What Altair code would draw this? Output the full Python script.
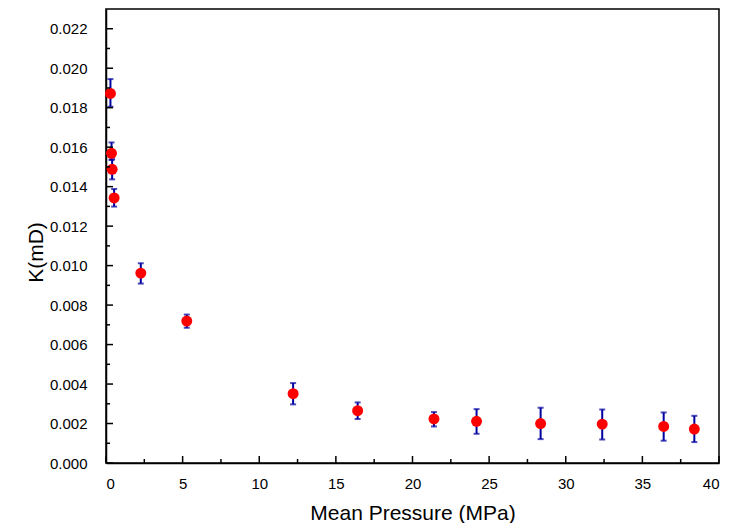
import altair as alt
import pandas as pd

# Data
pressure = [0.29, 0.36, 0.40, 0.53, 2.27, 5.27, 12.21, 16.42, 21.40, 24.18, 28.36, 32.38, 36.39, 38.39]
k_val = [0.01872, 0.01569, 0.01488, 0.01343, 0.00962, 0.00719, 0.00351, 0.00265, 0.00223, 0.00211, 0.00200, 0.00197, 0.00185, 0.00172]
k_hi = [0.01945, 0.01624, 0.01539, 0.01388, 0.01012, 0.00752, 0.00405, 0.00307, 0.00258, 0.00273, 0.00280, 0.00271, 0.00256, 0.00239]
k_lo = [0.01805, 0.01535, 0.01437, 0.01299, 0.00909, 0.00685, 0.00297, 0.00223, 0.00185, 0.00148, 0.00121, 0.00119, 0.00113, 0.00106]

y_major = [0.000, 0.002, 0.004, 0.006, 0.008, 0.010, 0.012, 0.014, 0.016, 0.018, 0.020, 0.022]
y_minor = [0.001, 0.003, 0.005, 0.007, 0.009, 0.011, 0.013, 0.015, 0.017, 0.019, 0.021]
x_major = [0, 5, 10, 15, 20, 25, 30, 35, 40]
x_minor = [2.5, 7.5, 12.5, 17.5, 22.5, 27.5, 32.5, 37.5]

W, H = 613, 454
FONT = "Liberation Sans"

df = pd.DataFrame({"p": pressure, "k": k_val, "hi": k_hi, "lo": k_lo})

xscale = alt.Scale(domain=[0, 40], nice=False, zero=False)
yscale = alt.Scale(domain=[0, 0.023], nice=False, zero=False)

xaxis = alt.Axis(values=x_major, format="d", ticks=False, grid=False, labelPadding=25,
                 labelBaseline="alphabetic", labelFontSize=15, labelFont=FONT, labelColor="black",
                 title="Mean Pressure (MPa)", titleFontSize=21, titleFont=FONT, titleFontWeight="normal",
                 titleColor="black", titleBaseline="alphabetic", titleY=56,
                 domainColor="black", domainWidth=1.5)
yaxis = alt.Axis(values=y_major, format=".3f", ticks=False, grid=False, labelPadding=19,
                 labelFontSize=15, labelFont=FONT, labelColor="black",
                 title="K(mD)", titleFontSize=21, titleFont=FONT, titleFontWeight="normal",
                 titleColor="black", titleAngle=-90, titleBaseline="alphabetic",
                 titleX=-64, titleY=243, titleAlign="center",
                 domainColor="black", domainWidth=1.5)

base = alt.Chart(df)

bars = base.mark_rule(color="#0000A0", strokeWidth=2).encode(
    x=alt.X("p:Q", scale=xscale, axis=xaxis),
    y=alt.Y("lo:Q", scale=yscale, axis=yaxis),
    y2="hi:Q",
)
cap_hi = base.mark_tick(color="#0000A0", orient="horizontal", size=6, thickness=2).encode(
    x=alt.X("p:Q", scale=xscale), y=alt.Y("hi:Q", scale=yscale))
cap_lo = base.mark_tick(color="#0000A0", orient="horizontal", size=6, thickness=2).encode(
    x=alt.X("p:Q", scale=xscale), y=alt.Y("lo:Q", scale=yscale))
points = base.mark_circle(color="#FF0000", size=120, opacity=1).encode(
    x=alt.X("p:Q", scale=xscale), y=alt.Y("k:Q", scale=yscale))

def yticks(vals, length):
    return alt.Chart(pd.DataFrame({"v": vals})).mark_rule(color="black", strokeWidth=1.5).encode(
        y=alt.Y("v:Q", scale=yscale), x=alt.value(0), x2=alt.value(length))

def xticks(vals, length):
    return alt.Chart(pd.DataFrame({"v": vals})).mark_rule(color="black", strokeWidth=1.5).encode(
        x=alt.X("v:Q", scale=xscale), y=alt.value(H), y2=alt.value(H - length))

chart = alt.layer(
    bars, cap_hi, cap_lo, points,
    yticks(y_major, 7), yticks(y_minor, 4), xticks(x_major, 7), xticks(x_minor, 4),
).properties(
    width=W, height=H,
    background="white",
    autosize=alt.AutoSizeParams(type="none"),
    padding={"left": 98, "top": 1, "right": 8, "bottom": 60},
).configure_view(stroke="black", strokeWidth=1.5)

chart.save("out.html", embed_options={"renderer": "svg", "actions": False})
